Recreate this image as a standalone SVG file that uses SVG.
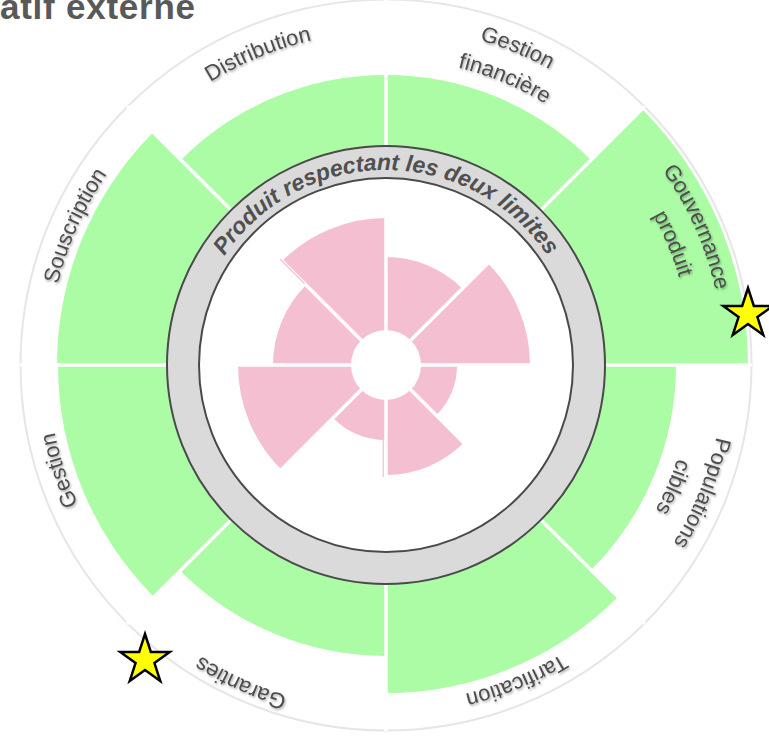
<svg xmlns="http://www.w3.org/2000/svg" width="769" height="737" viewBox="0 0 769 737">
<defs>
<style>
.green{fill:#abfca5}
.pink{fill:#f4bfd0}
.sep{stroke:#fff;stroke-width:3.5;fill:none}
.lbl{font-family:"Liberation Sans",Arial,sans-serif;font-size:22px;fill:#4d4d4d;filter:url(#sh)}
.ring{font-family:"Liberation Sans",Arial,sans-serif;font-size:23px;font-weight:bold;font-style:italic;fill:#505050}
.star{fill:#ffff00;stroke:#000;stroke-width:2.5;stroke-linejoin:miter}
</style>
<filter id="sh" x="-10%" y="-30%" width="120%" height="160%">
<feDropShadow dx="1" dy="1.5" stdDeviation="1" flood-color="#000" flood-opacity="0.35"/>
</filter>
<path id="p345" d="M386,20 A345,345 0 0 1 386,710 A345,345 0 0 1 386,20"/>
<path id="p338" d="M386,27 A338,338 0 0 1 386,703 A338,338 0 0 1 386,27"/>
<path id="p333" d="M386,32 A333,333 0 0 1 386,698 A333,333 0 0 1 386,32"/>
<path id="p306" d="M386,59 A306,306 0 0 1 386,671 A306,306 0 0 1 386,59"/>
<path id="p195" d="M386,560 A195,195 0 0 1 386,170 A195,195 0 0 1 386,560"/>
<polygon id="starShape" points="0,-26 5.84,-8.03 24.73,-8.03 9.44,3.07 15.28,21.03 0,9.93 -15.28,21.03 -9.44,3.07 -24.73,-8.03 -5.84,-8.03"/>
</defs>
<rect width="769" height="737" fill="#fff"/>
<text x="0" y="19" font-family="'Liberation Sans',Arial,sans-serif" font-size="35" font-weight="bold" fill="#595959" textLength="195" lengthAdjust="spacing">atif externe</text>
<circle cx="386" cy="365" r="365.5" fill="none" stroke="#e6e6e6" stroke-width="2"/>
<g id="gestion-financiere">
<path class="green" d="M386,75 A290,290 0 0 1 591.06,159.94 L534.49,216.51 A210,210 0 0 0 386,155 Z"/>
<text class="lbl"><textPath href="#p338" startOffset="132.7" text-anchor="middle">Gestion</textPath></text>
<text class="lbl"><textPath href="#p306" startOffset="120.2" text-anchor="middle">financière</textPath></text>
</g>
<g id="gouvernance-produit">
<path class="green" d="M641.97,109.03 A362,362 0 0 1 748,365 L596,365 A210,210 0 0 0 534.49,216.51 Z"/>
<text class="lbl"><textPath href="#p338" startOffset="389.4" text-anchor="middle">Gouvernance</textPath></text>
<text class="lbl"><textPath href="#p306" startOffset="357.8" text-anchor="middle">produit</textPath></text>
</g>
<g id="populations-cibles">
<path class="green" d="M676,365 A290,290 0 0 1 591.06,570.06 L534.49,513.49 A210,210 0 0 0 596,365 Z"/>
<text class="lbl"><textPath href="#p338" startOffset="660.7" text-anchor="middle">Populations</textPath></text>
<text class="lbl"><textPath href="#p306" startOffset="603.5" text-anchor="middle">cibles</textPath></text>
</g>
<g id="tarification">
<path class="green" d="M617.93,596.93 A328,328 0 0 1 386,693 L386,575 A210,210 0 0 0 534.49,513.49 Z"/>
<text class="lbl"><textPath href="#p338" startOffset="929.1" text-anchor="middle">Tarification</textPath></text>
</g>
<g id="garanties">
<path class="green" d="M386,656 A291,291 0 0 1 180.23,570.77 L237.51,513.49 A210,210 0 0 0 386,575 Z"/>
<text class="lbl"><textPath href="#p345" startOffset="1231.4" text-anchor="middle">Garanties</textPath></text>
</g>
<g id="gestion">
<path class="green" d="M154.07,596.93 A328,328 0 0 1 58,365 L176,365 A210,210 0 0 0 237.51,513.49 Z"/>
<text class="lbl"><textPath href="#p338" startOffset="1486.6" text-anchor="middle">Gestion</textPath></text>
</g>
<g id="souscription">
<path class="green" d="M57,365 A329,329 0 0 1 153.36,132.36 L237.51,216.51 A210,210 0 0 0 176,365 Z"/>
<text class="lbl"><textPath href="#p338" startOffset="1734.4" text-anchor="middle">Souscription</textPath></text>
</g>
<g id="distribution">
<path class="green" d="M180.94,159.94 A290,290 0 0 1 386,75 L386,155 A210,210 0 0 0 237.51,216.51 Z"/>
<text class="lbl"><textPath href="#p333" startOffset="1961.5" text-anchor="middle">Distribution</textPath></text>
</g>
<g id="connectors">
<path class="sep" d="M386,155 L386,0 M534.49,216.51 L644.8,106.2 M596,365 L752,365 M534.49,513.49 L644.8,623.8 M386,575 L386,731 M237.51,513.49 L127.2,623.8 M176,365 L20,365 M237.51,216.51 L127.2,106.2"/>
</g>
<g id="limite-ring">
<circle cx="386" cy="365" r="203" fill="none" stroke="#dadada" stroke-width="32"/>
<circle cx="386" cy="365" r="219" fill="none" stroke="#4a4a4a" stroke-width="2"/>
<circle cx="386" cy="365" r="187" fill="#fff" stroke="#4a4a4a" stroke-width="2"/>
<text class="ring"><textPath href="#p195" startOffset="50%" text-anchor="middle">Produit respectant les deux limites</textPath></text>
</g>
<g id="pink-chart">
<path class="pink" d="M386,365 L386,257 A108,108 0 0 1 462.37,288.63 Z"/>
<path class="pink" d="M386,365 L487.82,263.18 A144,144 0 0 1 530,365 Z"/>
<path class="pink" d="M386,365 L457,365 A71,71 0 0 1 436.2,415.2 Z"/>
<path class="pink" d="M386,365 L463.78,442.78 A110,110 0 0 1 386,475 Z"/>
<path class="pink" d="M386,365 L386,440 A75,75 0 0 1 332.97,418.03 Z"/>
<path class="pink" d="M386,365 L281.35,469.65 A148,148 0 0 1 238,365 Z"/>
<path class="pink" d="M386,365 L273,365 A113,113 0 0 1 306.1,285.1 Z"/>
<path class="pink" d="M386,365 L282.06,261.06 A147,147 0 0 1 386,218 Z"/>
<path class="sep" d="M386,365 L386,210 M386,365 L495,256 M386,365 L540,365 M386,365 L495,474 M386,365 L386,480 M386,365 L277,474 M386,365 L232,365 M386,365 L277,256"/>
<path d="M304.5,283.5 L280,259 M383.2,440 L383.2,477" stroke="#f4bfd0" stroke-width="1.2" fill="none"/>
<circle cx="386" cy="365" r="35" fill="#fff"/>
</g>
<g id="stars">
<use href="#starShape" class="star" x="748" y="314"/>
<use href="#starShape" class="star" x="145" y="660"/>
</g>
</svg>
